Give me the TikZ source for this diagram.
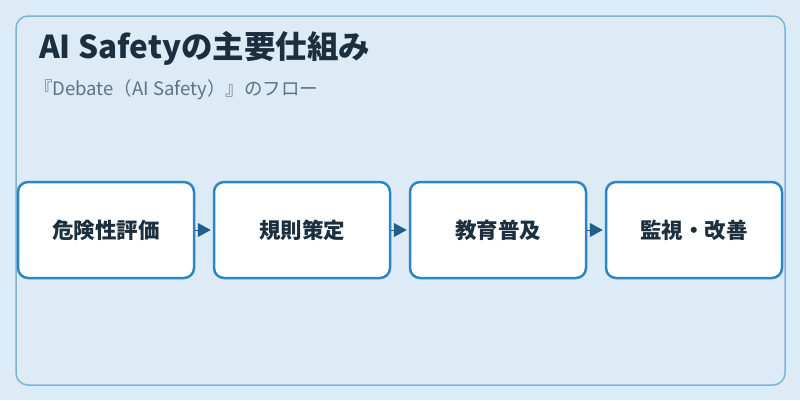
\documentclass[tikz,border=0pt]{standalone}
\usepackage{fontspec}
\setmainfont{Noto Sans CJK JP}
\usetikzlibrary{arrows.meta}
\definecolor{bgc}{HTML}{DCEBF6}
\definecolor{frame}{HTML}{7FB3D5}
\definecolor{boxline}{HTML}{2E86C1}
\definecolor{txt}{HTML}{1B2F3F}
\definecolor{subc}{HTML}{5D7384}
\definecolor{arr}{HTML}{1F5F8B}
\tikzset{
  stepbox/.style={draw=boxline, line width=2.5pt, fill=white, rounded corners=10pt,
    minimum width=176pt, minimum height=96pt, inner sep=0pt, anchor=center,
    text=txt, font=\fontsize{21.5}{24}\selectfont\bfseries},
  flow/.style={draw=arr, line width=1pt, -{Triangle[length=13pt,width=14pt]}, shorten >=2pt}
}
\begin{document}
\begin{tikzpicture}[x=1pt,y=-1pt]
\useasboundingbox (0,0) rectangle (800,400);
\fill[bgc] (0,0) rectangle (800,400);
\draw[frame, line width=1.5pt, fill=bgc, rounded corners=12pt] (16,16) rectangle (785,385);
\node[anchor=base west, inner sep=0pt, text=txt, font=\fontsize{31.5}{34}\selectfont\bfseries] (title) at (39,58) {AI Safetyの主要仕組み};
\node[anchor=base west, inner sep=0pt, text=subc, font=\fontsize{18.5}{21}\selectfont] (sub) at (34,95) {『Debate（AI Safety）』のフロー};
\node[stepbox] (b1) at (106,230) {危険性評価};
\node[stepbox] (b2) at (302,230) {規則策定};
\node[stepbox] (b3) at (498,230) {教育普及};
\node[stepbox] (b4) at (694,230) {監視・改善};
\draw[flow] (b1) -- (b2);
\draw[flow] (b2) -- (b3);
\draw[flow] (b3) -- (b4);
\end{tikzpicture}
\end{document}
